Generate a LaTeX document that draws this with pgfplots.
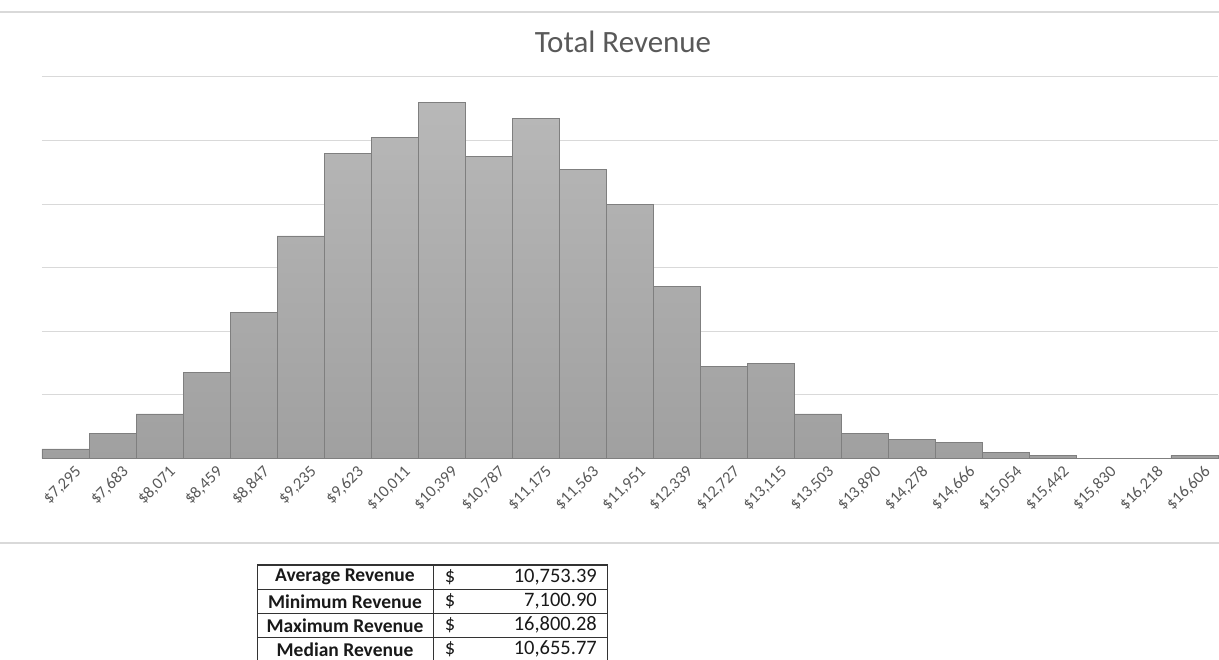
\documentclass[border=0pt]{standalone}
\usepackage{fontspec}
\setmainfont{Carlito}
\usepackage{pgfplots}
\pgfplotsset{compat=1.18}
\definecolor{txt}{HTML}{595959}
\definecolor{gridc}{HTML}{D9D9D9}
\definecolor{bartop}{HTML}{B8B8B8}
\definecolor{barbot}{HTML}{A0A0A0}
\definecolor{baredge}{HTML}{7F7F7F}
\begin{document}
\begin{tikzpicture}[x=1pt,y=1pt]
\useasboundingbox (0,0) rectangle (1219,660);
\draw[gridc, line width=1.5pt] (0,648) -- (1219,648);
\draw[gridc, line width=1.5pt] (0,117) -- (1219,117);
\node[text=txt, font=\fontsize{31}{37}\selectfont] at (623,618) {Total Revenue};
\begin{axis}[
  at={(42pt,201.5pt)}, anchor=south west, scale only axis,
  width=1176pt, height=381.5pt,
  xmin=0, xmax=25, ymin=0, ymax=120,
  ytick={0,20,...,120}, yticklabels={}, ymajorgrids,
  grid style={gridc, line width=1pt},
  axis line style={draw=none}, major tick length=0pt,
  xtick={0.5,1.5,...,24.5},
  xticklabels={{\$7,295},{\$7,683},{\$8,071},{\$8,459},{\$8,847},{\$9,235},{\$9,623},{\$10,011},{\$10,399},{\$10,787},{\$11,175},{\$11,563},{\$11,951},{\$12,339},{\$12,727},{\$13,115},{\$13,503},{\$13,890},{\$14,278},{\$14,666},{\$15,054},{\$15,442},{\$15,830},{\$16,218},{\$16,606}},
  xticklabel style={rotate=45, anchor=east, text=txt, font=\fontsize{16.5}{19}\selectfont, yshift=-17pt, xshift=3pt, inner sep=1pt},
  ybar, bar width=1,
  clip=false
]
\addplot[draw=baredge, top color=bartop, bottom color=barbot, line width=0.8pt] coordinates {
(0.5,3) (1.5,8) (2.5,14) (3.5,27) (4.5,46) (5.5,70) (6.5,96) (7.5,101) (8.5,112) (9.5,95)
(10.5,107) (11.5,91) (12.5,80) (13.5,54) (14.5,29) (15.5,30) (16.5,14) (17.5,8) (18.5,6) (19.5,5)
(20.5,2) (21.5,1) (22.5,0) (23.5,0) (24.5,1)};
\end{axis}
% summary table
\begin{scope}[line width=1.4pt, black!80]
\draw (257.3,95) -- (607.7,95);
\draw (257.3,70.7) -- (607.7,70.7);
\draw (257.3,46.7) -- (607.7,46.7);
\draw (257.3,22.7) -- (607.7,22.7);
\draw (257.3,95) -- (257.3,0);
\draw (433.3,95) -- (433.3,0);
\draw (607.7,95) -- (607.7,0);
\end{scope}
\begin{scope}[every node/.style={font=\fontsize{20.5}{24}\selectfont, inner sep=0pt, text=black!90}]
\node[font=\fontsize{19.5}{23}\selectfont\bfseries] at (345,82.9) {Average Revenue};
\node[font=\fontsize{19.5}{23}\selectfont\bfseries] at (345,58.7) {Minimum Revenue};
\node[font=\fontsize{19.5}{23}\selectfont\bfseries] at (345,34.7) {Maximum Revenue};
\node[font=\fontsize{19.5}{23}\selectfont\bfseries] at (345,10.7) {Median Revenue};
\node at (450,82.9) {\$};
\node at (450,58.7) {\$};
\node at (450,34.7) {\$};
\node at (450,10.7) {\$};
\node[anchor=east] at (597,82.9) {10,753.39};
\node[anchor=east] at (597,58.7) {7,100.90};
\node[anchor=east] at (597,34.7) {16,800.28};
\node[anchor=east] at (597,10.7) {10,655.77};
\end{scope}
\end{tikzpicture}
\end{document}
